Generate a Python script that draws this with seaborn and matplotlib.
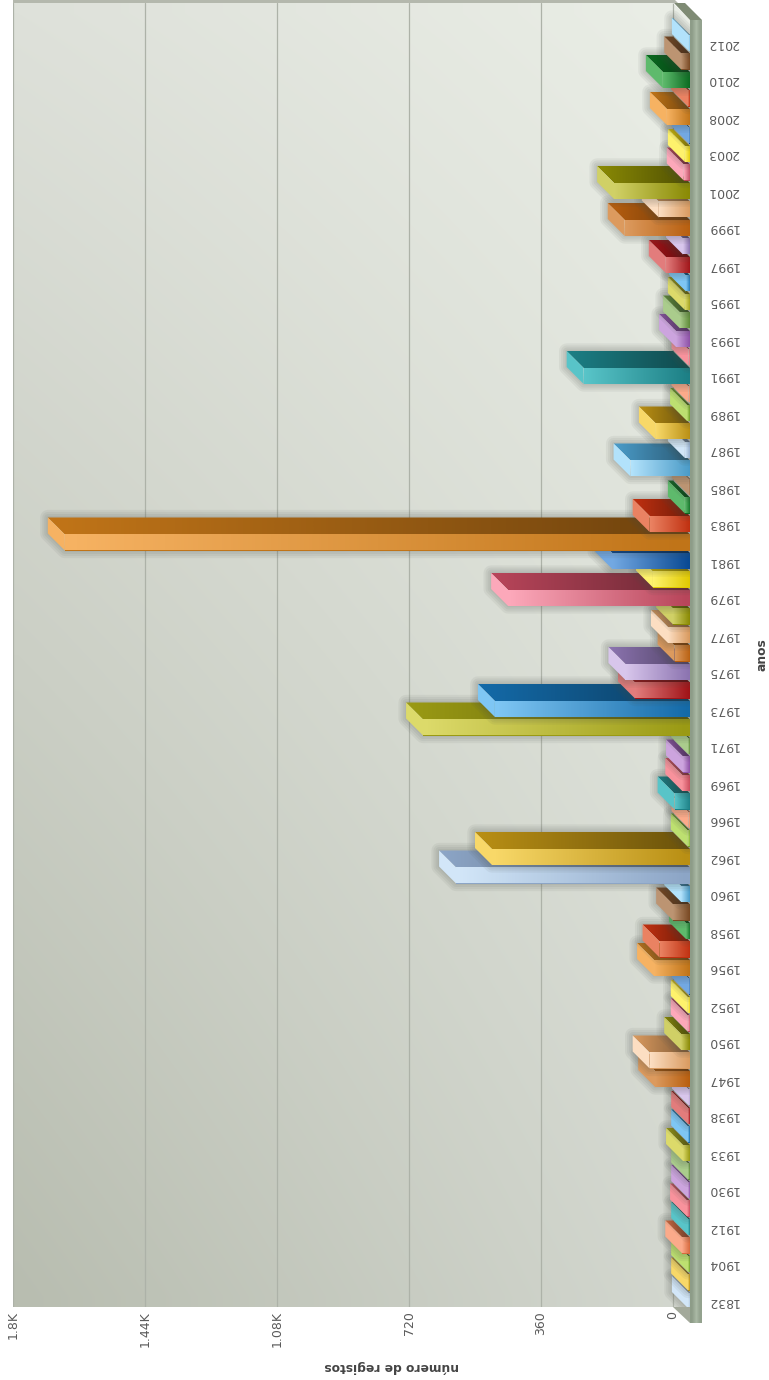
import numpy as np
import pandas as pd
import matplotlib
matplotlib.use("Agg")
import matplotlib.pyplot as plt
import seaborn as sns
from matplotlib.colors import LinearSegmentedColormap, to_rgb
from matplotlib.patches import Polygon

# linhas de cima para baixo, tal como aparecem na imagem
anos = ["2012", "2011", "2010", "2009", "2008", "2005", "2003", "2002", "2001", "2000",
        "1999", "1998", "1997", "1996", "1995", "1994", "1993", "1992", "1991", "1990",
        "1989", "1988", "1987", "1986", "1985", "1984", "1983", "1982", "1981", "1980",
        "1979", "1978", "1977", "1976", "1975", "1974", "1973", "1972", "1971", "1970",
        "1969", "1968", "1966", "1963", "1962", "1961", "1960", "1959", "1958", "1957",
        "1956", "1955", "1952", "1951", "1950", "1948", "1947", "1940", "1938", "1935",
        "1933", "1932", "1930", "1920", "1912", "1910", "1904", "1900", "1832"]
registos = [3, 24, 74, 5, 63, 3, 14, 17, 207, 85,
            178, 19, 66, 11, 14, 27, 38, 4, 290, 4,
            8, 93, 14, 162, 3, 14, 110, 1705, 212, 101,
            496, 46, 60, 42, 176, 150, 532, 728, 5, 19,
            21, 42, 4, 6, 540, 638, 24, 46, 11, 83,
            98, 3, 6, 6, 24, 110, 95, 3, 5, 5,
            19, 5, 5, 8, 5, 21, 5, 5, 3]
x_ticks = [0, 360, 720, 1080, 1440, 1800]
x_labels = ["0", "360", "720", "1.08K", "1.44K", "1.8K"]

# cores das barras, a contar de baixo: ponta clara, base escura
cor_clara = ["#d2e6f8", "#f8d868", "#bde070", "#fbaa8a", "#58c4c8", "#f8929c", "#cca4de", "#aacc8c",
             "#dcda6a", "#7ec6f4", "#e27c7c", "#d8c6ec", "#dc9a5e", "#fcdec2", "#d0d066", "#fca8ba",
             "#fef26c", "#72a8e2", "#f6b262", "#ea8262", "#5eba6c", "#bc9472", "#b2e2fb"]
cor_escura = ["#8ca5c6", "#b98f14", "#6fa02a", "#d86a3e", "#1c7f85", "#cc4f5f", "#8e52a8", "#5f8c3a",
              "#9a9a14", "#146aa8", "#a01418", "#8c74b0", "#b85f0f", "#d99a5f", "#8a8a05", "#b8455a",
              "#e0c800", "#0a4a94", "#c07418", "#c03010", "#0a6a20", "#7a4a24", "#4a9bc8"]

W, H = 769, 1380
ESCALA = 132 / 360    # px por registo
PASSO = 18.5          # px por linha
Y0 = 43               # centro da primeira linha
EIXO = 690            # x do zero no plano da frente
PROF = 17             # profundidade 3D em px
ALTURA = 16 / PASSO

sns.set_style("white")
fig = plt.figure(figsize=(W / 100, H / 100), dpi=100)


def caixa(x0, y0, x1, y1):
    return [x0 / W, 1 - y1 / H, (x1 - x0) / W, (y1 - y0) / H]


def gradiente(c1, c2):
    return LinearSegmentedColormap.from_list("g", [c1, c2])


def escurecer(cor, f):
    return tuple(c * f for c in to_rgb(cor))


# parede do fundo
parede = fig.add_axes(caixa(13, 3, EIXO, 1307), zorder=0)
u, v = np.meshgrid(np.linspace(0, 1, 64), np.linspace(0, 1, 64))
cantos = np.array([[[222, 225, 218], [234, 238, 230]], [[184, 189, 176], [211, 215, 207]]]) / 255
fundo = ((1 - v)[..., None] * ((1 - u)[..., None] * cantos[0, 0] + u[..., None] * cantos[0, 1])
         + v[..., None] * ((1 - u)[..., None] * cantos[1, 0] + u[..., None] * cantos[1, 1]))
x_dir = 1800 - 677 / ESCALA
parede.imshow(fundo, extent=(1800, x_dir, 1307, 3), aspect="auto", interpolation="bilinear", zorder=0)
parede.set_xlim(1800, x_dir)
parede.set_yticks([])
parede.set_xticks(x_ticks)
parede.set_xticklabels(x_labels, rotation=90, fontsize=9, color="#5a5a5a")
parede.tick_params(axis="x", length=0, pad=3)
parede.grid(False)
parede.xaxis.grid(True, color="#adb2a8", lw=0.9, zorder=1)
parede.set_axisbelow(False)
for s in parede.spines.values():
    s.set_visible(False)
parede.set_xlabel("número de registos", rotation=180, fontsize=8.8, fontweight="bold", color="#444444")
parede.xaxis.set_label_coords((392 - 13) / 677, -(1366 - 1307) / 1304)
parede.xaxis.label.set_va("center")

# plano da frente com as barras
df = pd.DataFrame({"ano": anos, "registos": registos})
n = len(anos)
paleta = [cor_escura[(n - 1 - i) % len(cor_escura)] for i in range(n)]
ax = fig.add_axes(caixa(13, 0, EIXO, 1323), zorder=1)
sns.barplot(data=df, y="ano", x="registos", hue="ano", palette=paleta, legend=False, order=anos,
            hue_order=anos, orient="h", width=ALTURA, saturation=1, linewidth=0, ax=ax)
ax.patch.set_visible(False)

dx = PROF / ESCALA
dy = PROF / PASSO
for barra in ax.patches[:n]:
    y0, alt, val = barra.get_y(), barra.get_height(), barra.get_width()
    pos = int(round(y0 + alt / 2))
    i = (n - 1 - pos) % len(cor_clara)
    z = 5 + (n - 1 - pos)
    clara, escura = cor_clara[i], cor_escura[i]

    # sombra suave
    contorno = [(0, y0 + alt), (val, y0 + alt), (val + dx, y0 + alt - dy), (val + dx, y0 - dy), (dx, y0 - dy), (0, y0)]
    for lw in (2, 5, 8, 11):
        ax.add_patch(Polygon(contorno, closed=True, facecolor="none", edgecolor="#4a4f4a", lw=lw, alpha=0.07,
                             joinstyle="round", clip_on=False, zorder=z))

    # face de cima
    cima = Polygon([(0, y0), (val, y0), (val + dx, y0 - dy), (dx, y0 - dy)], closed=True, fc="none", ec="none", zorder=z + 0.1)
    ax.add_patch(cima)
    im = ax.imshow(np.linspace(0, 1, 32).reshape(1, -1), cmap=gradiente(escurecer(escura, 1.0), escurecer(escura, 0.58)),
                   extent=(val + dx, 0, y0, y0 - dy), aspect="auto", interpolation="bilinear", zorder=z + 0.1)
    im.set_clip_path(cima)

    # topo da barra
    ponta = [(val, y0), (val, y0 + alt), (val + dx, y0 + alt - dy), (val + dx, y0 - dy)]
    ax.add_patch(Polygon(ponta, closed=True, fc=clara, ec="none", zorder=z + 0.2))

    # face da frente
    barra.set_zorder(z + 0.3)
    ax.imshow(np.linspace(0, 1, 32).reshape(1, -1), cmap=gradiente(clara, escura),
              extent=(val, 0, y0 + alt, y0), aspect="auto", interpolation="bilinear", zorder=z + 0.3)

ax.set_xlim((EIXO - 13) / ESCALA, 0)
ax.set_ylim((1323 - Y0) / PASSO, -Y0 / PASSO)
ax.set_xticks([])
ax.set_xlabel("")
ax.set_ylabel("")
ax.yaxis.tick_right()
ax.set_yticks(range(0, n, 2))
ax.set_yticklabels(anos[::2], rotation=180, fontsize=9, color="#5a5a5a", va="center")
ax.tick_params(axis="y", length=0, pad=12.5)
for s in ax.spines.values():
    s.set_visible(False)

# barra do eixo vertical
faixa = fig.add_axes(caixa(EIXO, 20, 702, 1323), zorder=2)
faixa.imshow(np.array([[0.0, 0.45, 1.0]]), cmap=LinearSegmentedColormap.from_list("f", ["#8d9c88", "#abbaa6", "#93a28e"]),
             aspect="auto", interpolation="bilinear")
faixa.axis("off")


def poligono(pts, cor):
    fig.add_artist(Polygon([(x / W, 1 - y / H) for x, y in pts], closed=True, fc=cor, ec="none",
                           transform=fig.transFigure, zorder=3))


poligono([(13, 0), (675, 0), (678, 3), (13, 3)], "#b4b8ad")
poligono([(673, 3), (692, 3), (692, 20), (690, 20)], "white")
poligono([(674, 3), (685, 3), (702, 20), (690, 20)], "#7f8b74")
poligono([(673, 1307), (690, 1307), (690, 1323)], "#a3a99b")

fig.text(762 / W, 1 - 655 / H, "anos", rotation=90, ha="center", va="center", fontsize=8.8,
         fontweight="bold", color="#444444")

fig.savefig("out.png", dpi=100)
